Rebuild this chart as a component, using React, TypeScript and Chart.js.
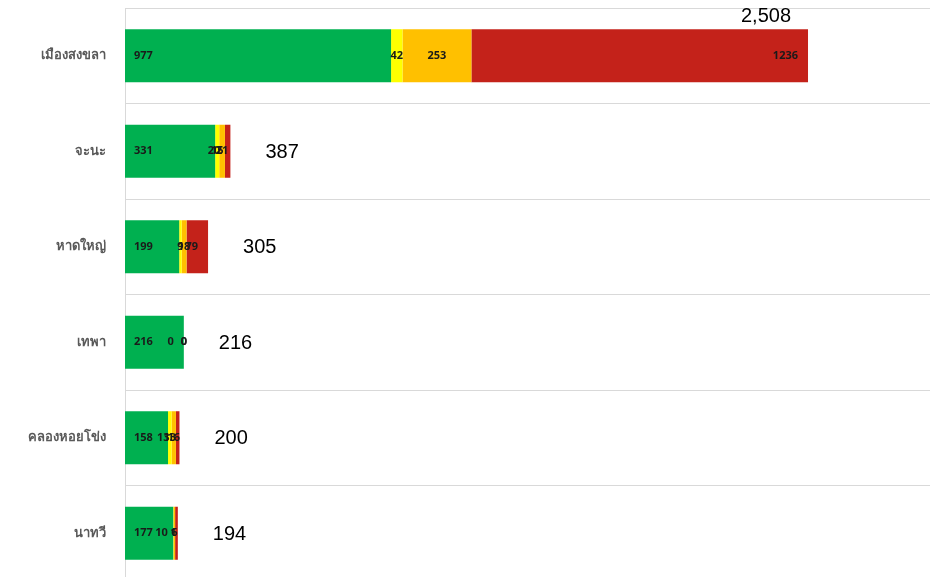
import React, { useEffect, useRef } from "react";
import { Chart, registerables } from "chart.js";

Chart.register(...registerables);

const categories = ["เมืองสงขลา", "จะนะ", "หาดใหญ่", "เทพา", "คลองหอยโข่ง", "นาทวี"];
const greenValues = [977, 331, 199, 216, 158, 177];
const yellowValues = [42, 15, 9, 0, 13, 1];
const orangeValues = [253, 21, 18, 0, 16, 6];
const redValues = [1236, 20, 79, 0, 13, 10];
const seriesNames = ["สีเขียว", "สีเหลือง", "สีส้ม", "สีแดง"];
const seriesColors = ["#00b050", "#ffff00", "#ffc000", "#c4221a"];
const axisMax = 3000;

const labelPlugin = {
  id: "segmentLabels",
  afterDatasetsDraw(chart: any) {
    const ctx = chart.ctx;
    const area = chart.chartArea;
    ctx.save();
    ctx.textBaseline = "middle";
    ctx.fillStyle = "#1a1a1a";
    ctx.font = 'bold 11px "Noto Sans", "DejaVu Sans", sans-serif';
    chart.data.datasets.forEach((ds: any, di: number) => {
      const meta = chart.getDatasetMeta(di);
      meta.data.forEach((bar: any, i: number) => {
        const v = ds.data[i];
        const txt = String(v);
        const start = Math.min(bar.base, bar.x);
        const end = Math.max(bar.base, bar.x);
        if (di === 0) {
          ctx.textAlign = "left";
          ctx.fillText(txt, start + 9, bar.y);
        } else if (di === 3) {
          ctx.textAlign = "right";
          ctx.fillText(txt, end - 10, bar.y);
        } else {
          ctx.textAlign = "center";
          ctx.fillText(txt, (start + end) / 2, bar.y);
        }
      });
    });
    // totals
    ctx.font = '20px "Liberation Sans", Arial, sans-serif';
    ctx.fillStyle = "#000000";
    const lastMeta = chart.getDatasetMeta(chart.data.datasets.length - 1);
    categories.forEach((_c, i) => {
      const total =
        greenValues[i] + yellowValues[i] + orangeValues[i] + redValues[i];
      const txt = total.toLocaleString("en-US");
      const bar: any = lastMeta.data[i];
      const end = Math.max(bar.base, bar.x);
      const w = ctx.measureText(txt).width;
      if (end + 35 + w > area.right - 100) {
        ctx.textAlign = "right";
        ctx.textBaseline = "bottom";
        ctx.fillText(txt, end - 17, bar.y - bar.height / 2 - 3);
      } else {
        ctx.textAlign = "left";
        ctx.textBaseline = "middle";
        ctx.fillText(txt, end + 35, bar.y + 1);
      }
    });
    ctx.restore();
  },
};

export default function App() {
  const canvasRef = useRef<HTMLCanvasElement | null>(null);

  useEffect(() => {
    document.documentElement.style.overflow = "hidden";
    document.body.style.overflow = "hidden";
    const canvas = canvasRef.current;
    if (!canvas) return;
    const valueSets = [greenValues, yellowValues, orangeValues, redValues];
    const chart = new Chart(canvas, {
      type: "bar",
      data: {
        labels: categories,
        datasets: valueSets.map((vals, k) => ({
          label: seriesNames[k],
          data: vals,
          backgroundColor: seriesColors[k],
          borderWidth: 0,
          barPercentage: 0.694,
          categoryPercentage: 0.8,
        })),
      },
      options: {
        indexAxis: "y",
        animation: false,
        responsive: true,
        maintainAspectRatio: false,
        layout: { padding: { top: 8, right: 0, bottom: 0, left: 0 } },
        plugins: {
          legend: { display: false },
          tooltip: { enabled: false },
          title: { display: false },
        },
        scales: {
          x: {
            stacked: true,
            min: 0,
            max: axisMax,
            display: false,
          },
          y: {
            stacked: true,
            grid: { color: "#d9d9d9", drawTicks: false, offset: true },
            border: { color: "#d9d9d9" },
            ticks: {
              padding: 19,
              color: "#595959",
              font: { family: '"Noto Sans", "DejaVu Sans", sans-serif', size: 13, weight: "bold" },
            },
            afterFit: (scale: any) => {
              scale.width = 140;
              scale.paddingTop = 0;
              scale.paddingBottom = 0;
            },
          },
        },
      } as any,
      plugins: [labelPlugin],
    });
    return () => chart.destroy();
  }, []);

  return (
    <div
      style={{
        position: "absolute",
        left: -15,
        top: 0,
        width: 957,
        height: 581,
      }}
    >
      <canvas ref={canvasRef} />
    </div>
  );
}
